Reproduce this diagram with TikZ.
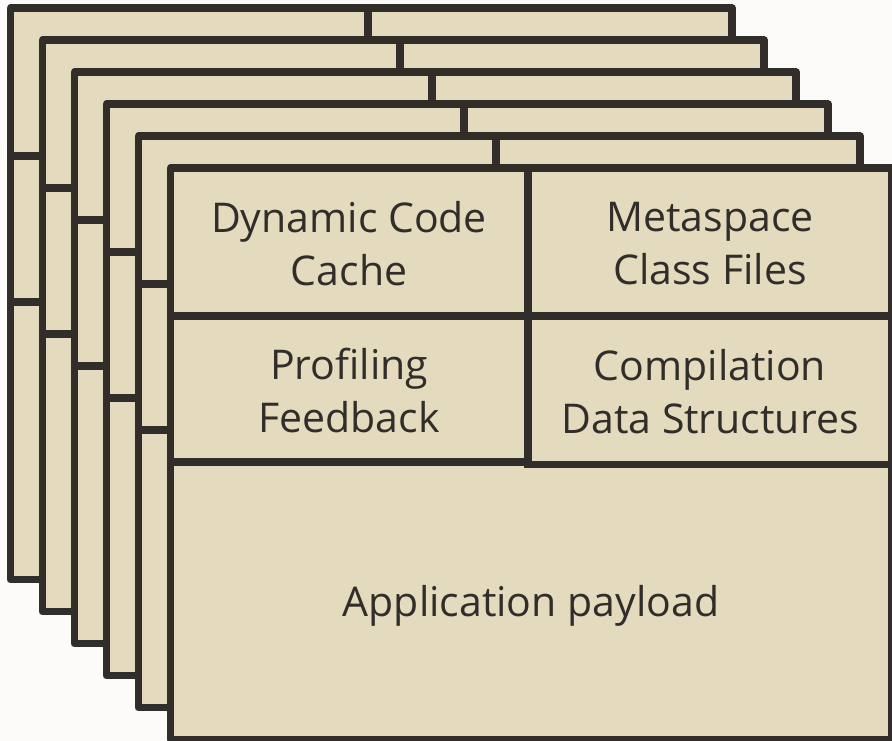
\documentclass[tikz,border=0pt]{standalone}
\usepackage{fontspec}
\setmainfont{Open Sans}
\usetikzlibrary{positioning}
\definecolor{cardfill}{HTML}{E4DBBF}
\definecolor{cardline}{HTML}{312D2A}
\definecolor{pagebg}{HTML}{FCFBFA}
\tikzstyle{card} = [draw=cardline, fill=cardfill, line width=7.5pt, line join=round]
\tikzstyle{divider} = [draw=cardline, line width=7.5pt, line cap=rect]
\tikzstyle{lbl} = [text=cardline, align=center, inner sep=0pt, font=\fontsize{41}{53}\selectfont]

\begin{document}
\begin{tikzpicture}[x=1pt, y=-1pt]
\useasboundingbox[fill=pagebg] (0,0) rectangle (892,741);

% six cards, back to front
\foreach \i in {0,...,5} {
  \begin{scope}[shift={(32*\i,32*\i)}]
    \draw[card] (10.5,8) coordinate (tl\i) rectangle (732,579.5) coordinate (br\i);
    \draw[divider] (368,8) -- (368,303);
    \draw[divider] (10.5,156) -- (732,156);
    \draw[divider] (10.5,302) -- (368,302);
    \draw[divider] (368,304.5) -- (732,304.5);
  \end{scope}
}

\node[lbl] (dyn)  at (349,244) {Dynamic Code\\Cache};
\node[lbl] (meta) at (710,244) {Metaspace\\Class Files};
\node[lbl] (prof) at (349,391) {Profiling\\Feedback};
\node[lbl] (comp) at (710,392) {Compilation\\Data Structures};
\node[lbl] (app)  at (531,606) {Application payload};

\end{tikzpicture}
\end{document}
